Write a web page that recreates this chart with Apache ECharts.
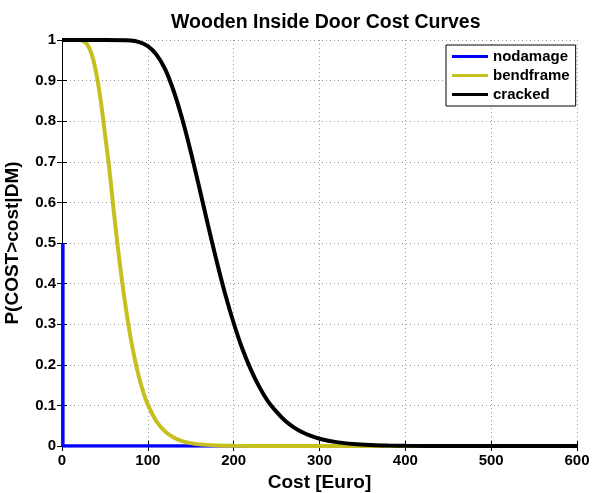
<!DOCTYPE html>
<html>
<head>
<meta charset="utf-8">
<script src="https://cdn.jsdelivr.net/npm/echarts@6/dist/echarts.min.js"></script>
<style>
  html, body { margin: 0; padding: 0; background: #fff; }
  #chart { width: 593px; height: 493px; }
</style>
</head>
<body>
<div id="chart"></div>
<script>
// Exceedance probability P(COST > cost | DM) per damage state
const nodamageCost = [1, 1, 600];
const nodamageProb = [0.5, 0, 0];

const bendframeCost = [0, 10, 20, 25, 30, 35, 40, 45, 50, 55, 60, 65, 70, 75, 80, 85, 90, 95, 100,
  110, 120, 130, 140, 150, 160, 180, 200, 250, 600];
const bendframeProb = [1, 1, 1, 0.997, 0.987, 0.962, 0.917, 0.852, 0.770, 0.685, 0.585, 0.491, 0.406,
  0.331, 0.266, 0.212, 0.167, 0.131, 0.102, 0.061, 0.036, 0.021, 0.012, 0.007, 0.004, 0.0015, 0.0005, 0, 0];

const crackedCost = [0, 50, 80, 90, 100, 110, 120, 130, 140, 150, 160, 170, 180, 190, 200, 210, 220,
  230, 240, 250, 260, 270, 280, 290, 300, 320, 340, 360, 380, 400, 450, 600];
const crackedProb = [1, 1, 0.999, 0.995, 0.985, 0.964, 0.929, 0.875, 0.806, 0.725, 0.636, 0.545, 0.457,
  0.375, 0.303, 0.240, 0.188, 0.145, 0.110, 0.084, 0.062, 0.046, 0.034, 0.025, 0.018, 0.0096, 0.005,
  0.0026, 0.0013, 0.0007, 0.0001, 0];

const seriesNames = ['nodamage', 'bendframe', 'cracked'];
const seriesColors = ['#0000ff', '#c6c01f', '#000000'];

const zip = (xs, ys) => xs.map((x, i) => [x, ys[i]]);

const FONT = "'Liberation Sans', Arial, Helvetica, sans-serif";
const dotted = { show: true, lineStyle: { color: '#9a9a9a', type: [1, 3], width: 1 } };

const chart = echarts.init(document.getElementById('chart'), null, { renderer: 'canvas' });

chart.setOption({
  animation: false,
  backgroundColor: '#ffffff',
  textStyle: { fontFamily: FONT },
  title: {
    text: 'Wooden Inside Door Cost Curves',
    left: 166,
    top: 8,
    textStyle: { fontFamily: FONT, fontSize: 19.5, fontWeight: 'bold', color: '#000' }
  },
  grid: { left: 62, right: 16, top: 40, bottom: 47, show: false, outerBoundsMode: 'none', containLabel: false },
  legend: {
    data: seriesNames,
    orient: 'vertical',
    left: 446,
    top: 45,
    padding: [4, 6, 4, 6],
    itemGap: 4,
    itemWidth: 36,
    itemHeight: 3,
    icon: 'rect',
    borderColor: '#000',
    borderWidth: 1,
    backgroundColor: '#fff',
    borderRadius: 0,
    textStyle: { fontFamily: FONT, fontSize: 15, fontWeight: 'bold', color: '#000' }
  },
  xAxis: [{
    type: 'value',
    min: 0, max: 600, interval: 100,
    name: 'Cost [Euro]',
    nameLocation: 'middle',
    nameGap: 21,
    nameTextStyle: { fontFamily: FONT, fontSize: 19, fontWeight: 'bold', color: '#000' },
    axisLine: { show: true, lineStyle: { color: '#000', width: 1 } },
    axisTick: { show: true, inside: true, length: 5, lineStyle: { color: '#000' } },
    axisLabel: { fontFamily: FONT, fontSize: 15, fontWeight: 'bold', color: '#000', margin: 7 },
    splitLine: dotted
  }, {
    type: 'value',
    position: 'top',
    min: 0, max: 600, interval: 100,
    axisLine: { show: true, lineStyle: { color: '#000', width: 1 } },
    axisTick: { show: true, inside: true, length: 5, lineStyle: { color: '#000' } },
    axisLabel: { show: false },
    splitLine: { show: false }
  }],
  yAxis: [{
    type: 'value',
    min: 0, max: 1, interval: 0.1,
    name: 'P(COST>cost|DM)',
    nameLocation: 'middle',
    nameGap: 40,
    nameTextStyle: { fontFamily: FONT, fontSize: 19, fontWeight: 'bold', color: '#000' },
    axisLine: { show: true, lineStyle: { color: '#000', width: 1 } },
    axisTick: { show: true, inside: true, length: 5, lineStyle: { color: '#000' } },
    axisLabel: { fontFamily: FONT, fontSize: 15, fontWeight: 'bold', color: '#000', margin: 6 },
    splitLine: dotted
  }, {
    type: 'value',
    position: 'right',
    min: 0, max: 1, interval: 0.1,
    axisLine: { show: true, lineStyle: { color: '#000', width: 1 } },
    axisTick: { show: true, inside: true, length: 5, lineStyle: { color: '#000' } },
    axisLabel: { show: false },
    splitLine: { show: false }
  }],
  series: [
    {
      name: seriesNames[0], type: 'line', xAxisIndex: 0, yAxisIndex: 0,
      data: zip(nodamageCost, nodamageProb),
      showSymbol: false, symbol: 'none',
      color: seriesColors[0],
      lineStyle: { width: 3.5, color: seriesColors[0] }
    },
    {
      name: seriesNames[1], type: 'line', xAxisIndex: 0, yAxisIndex: 0,
      data: zip(bendframeCost, bendframeProb),
      showSymbol: false, symbol: 'none',
      smooth: 0.35,
      color: seriesColors[1],
      lineStyle: { width: 4, color: seriesColors[1] }
    },
    {
      name: seriesNames[2], type: 'line', xAxisIndex: 0, yAxisIndex: 0,
      data: zip(crackedCost, crackedProb),
      showSymbol: false, symbol: 'none',
      smooth: 0.35,
      color: seriesColors[2],
      lineStyle: { width: 4, color: seriesColors[2] }
    }
  ]
});
</script>
</body>
</html>
